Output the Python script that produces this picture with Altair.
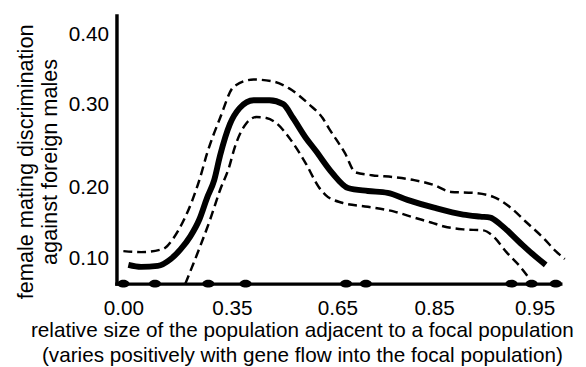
import altair as alt
import pandas as pd

# ---- data ----
x_ticks = [0.00, 0.35, 0.65, 0.85, 0.95]
y_ticks = [0.10, 0.20, 0.30, 0.40]

main_x = [0.016, 0.057, 0.111, 0.153, 0.185, 0.216, 0.245, 0.270, 0.293, 0.312,
          0.344, 0.372, 0.412, 0.457, 0.496, 0.524, 0.560, 0.588, 0.636, 0.672,
          0.713, 0.754, 0.795, 0.850, 0.879, 0.896, 0.906, 0.916, 0.935, 0.948, 0.961]
main_y = [0.0917, 0.0889, 0.0903, 0.100, 0.1139, 0.1319, 0.1556, 0.1861, 0.2094, 0.2388,
          0.2765, 0.2953, 0.3056, 0.3056, 0.300, 0.2835, 0.260, 0.2447, 0.2176, 0.200,
          0.1958, 0.1931, 0.1833, 0.1722, 0.1625, 0.1597, 0.1583, 0.1486, 0.1236, 0.1069, 0.0917]

upper_x = [0.000, 0.057, 0.127, 0.159, 0.191, 0.223, 0.248, 0.270, 0.312, 0.356,
           0.412, 0.468, 0.513, 0.569, 0.608, 0.625, 0.666, 0.687, 0.721, 0.768,
           0.809, 0.850, 0.867, 0.889, 0.909, 0.925, 0.941, 0.958, 0.971, 0.980]
upper_y = [0.1111, 0.1097, 0.1139, 0.1278, 0.1514, 0.1833, 0.2129, 0.2412, 0.2835, 0.3253,
           0.3352, 0.3324, 0.3225, 0.300, 0.2835, 0.2718, 0.2412, 0.2188, 0.2153, 0.2129,
           0.2094, 0.2035, 0.1944, 0.1931, 0.1875, 0.1736, 0.1528, 0.1306, 0.1111, 0.100]

lower_x = [0.200, 0.223, 0.248, 0.280, 0.312, 0.341, 0.358, 0.392, 0.420, 0.448,
           0.476, 0.513, 0.560, 0.597, 0.616, 0.660, 0.713, 0.768, 0.809, 0.844,
           0.860, 0.879, 0.899, 0.909, 0.922, 0.935, 0.945]
lower_y = [0.0653, 0.0903, 0.1181, 0.1556, 0.1972, 0.2247, 0.2482, 0.2776, 0.2847, 0.2835,
           0.2776, 0.260, 0.2294, 0.2012, 0.1903, 0.1792, 0.1736, 0.1667, 0.1583, 0.1514,
           0.1458, 0.1417, 0.1403, 0.1319, 0.1097, 0.0903, 0.0722]

rug_x = [0.00, 0.102, 0.274, 0.389, 0.668, 0.709, 0.927, 0.947, 0.971]

# ---- piecewise scales (the original axis is not evenly spaced) ----
W, H = 450, 272
x_domain = [-0.0223, 0.00, 0.35, 0.65, 0.85, 0.95, 0.9755]
x_range = [0, 7, 117, 224, 322, 424, W]
y_domain = [0.0653, 0.10, 0.20, 0.30, 0.40, 0.4268]
y_range = [H, 247, 175, 90, 19, 0]

FONT = "Liberation Sans"

xscale = alt.Scale(domain=x_domain, range=x_range, nice=False, zero=False)
yscale = alt.Scale(domain=y_domain, range=y_range, nice=False, zero=False)

xaxis = alt.Axis(values=x_ticks, format=".2f", labelPadding=14, labelFlush=False,
                 title=["relative size of the population adjacent to a focal population",
                        "(varies positively with gene flow into the focal population)"],
                 titleX=188, titleY=54, titleAlign="center", titleBaseline="alphabetic",
                 titleFontSize=21, titleLineHeight=25)
yaxis = alt.Axis(values=y_ticks, format=".2f", labelPadding=8, labelFlush=False,
                 title=["female mating discrimination", "against foreign males"],
                 titleX=-85, titleY=148, titleAlign="center",
                 titleBaseline="alphabetic", titleFontSize=22, titleLineHeight=24)

def enc(chart):
    return chart.encode(
        x=alt.X("x:Q", scale=xscale, axis=xaxis),
        y=alt.Y("y:Q", scale=yscale, axis=yaxis),
    )

main_df = pd.DataFrame({"x": main_x, "y": main_y})
upper_df = pd.DataFrame({"x": upper_x, "y": upper_y})
lower_df = pd.DataFrame({"x": lower_x, "y": lower_y})
rug_df = pd.DataFrame({"x": rug_x})

upper = enc(alt.Chart(upper_df).mark_line(color="black", strokeWidth=2.5,
                                          strokeDash=[9, 5], interpolate="monotone"))
lower = enc(alt.Chart(lower_df).mark_line(color="black", strokeWidth=2.5,
                                          strokeDash=[9, 5], interpolate="monotone"))
main = enc(alt.Chart(main_df).mark_line(color="black", strokeWidth=6,
                                        interpolate="monotone"))

ellipse = "M-1,0 A1,0.65 0 1,1 1,0 A1,0.65 0 1,1 -1,0 Z"
rug = alt.Chart(rug_df).mark_point(shape=ellipse, filled=True, color="black",
                                   opacity=1, size=150).encode(
    x=alt.X("x:Q", scale=xscale, axis=xaxis),
    y=alt.value(H),
)

chart = alt.layer(upper, lower, main, rug).properties(
    width=W, height=H,
    autosize=alt.AutoSizeParams(type="none"),
    padding={"left": 110, "top": 5, "right": 18, "bottom": 82},
).configure_view(stroke=None).configure_axis(
    domainColor="black", domainWidth=3.5, domainCap="square",
    ticks=False, tickSize=0, grid=False,
    labelFont=FONT, labelFontSize=21, labelColor="black",
    titleFont=FONT, titleFontWeight="normal", titleColor="black",
)

chart.save("out.html", embed_options={"renderer": "svg", "actions": False})
